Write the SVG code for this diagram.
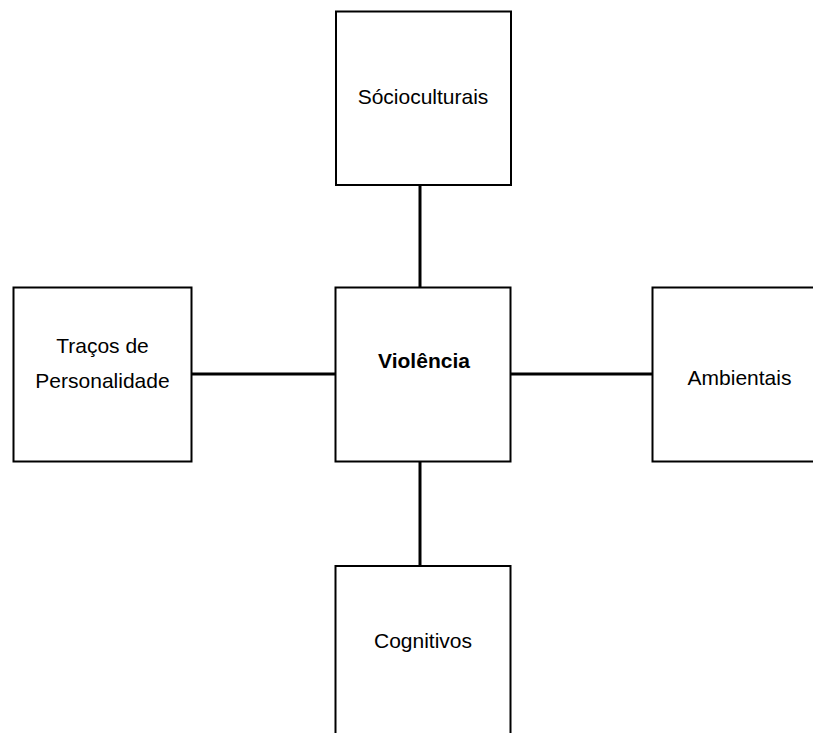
<svg xmlns="http://www.w3.org/2000/svg" width="813" height="733" viewBox="0 0 813 733">
<style>
.box{fill:#fff;stroke:#000;stroke-width:2}
.lbl{font-family:"Liberation Sans",Arial,sans-serif;font-size:21px;fill:#000;text-anchor:middle}
.b{font-weight:bold}
.conn line{stroke:#000;stroke-width:3}
</style>
<rect width="813" height="733" fill="#fff"/>
<g class="conn" id="connectors">
<line x1="420" y1="185" x2="420" y2="288"/>
<line x1="192" y1="374" x2="336" y2="374"/>
<line x1="510" y1="374" x2="653" y2="374"/>
<line x1="420" y1="461" x2="420" y2="566"/>
</g>
<g id="socio"><rect class="box" x="336" y="11.5" width="175" height="173.5"/><text class="lbl" x="423" y="103.5">Sócioculturais</text></g>
<g id="violencia"><rect class="box" x="335.5" y="287.5" width="175" height="174"/><text class="lbl b" x="424" y="368">Violência</text></g>
<g id="tracos"><rect class="box" x="13.5" y="287.5" width="178" height="174"/><text class="lbl" x="102.5" y="352.5">Traços de</text><text class="lbl" x="102.5" y="387.5">Personalidade</text></g>
<g id="ambientais"><rect class="box" x="652.5" y="287.5" width="175" height="174"/><text class="lbl" x="739.5" y="385">Ambientais</text></g>
<g id="cognitivos"><rect class="box" x="335.5" y="566" width="175" height="174"/><text class="lbl" x="423" y="648">Cognitivos</text></g>
</svg>
